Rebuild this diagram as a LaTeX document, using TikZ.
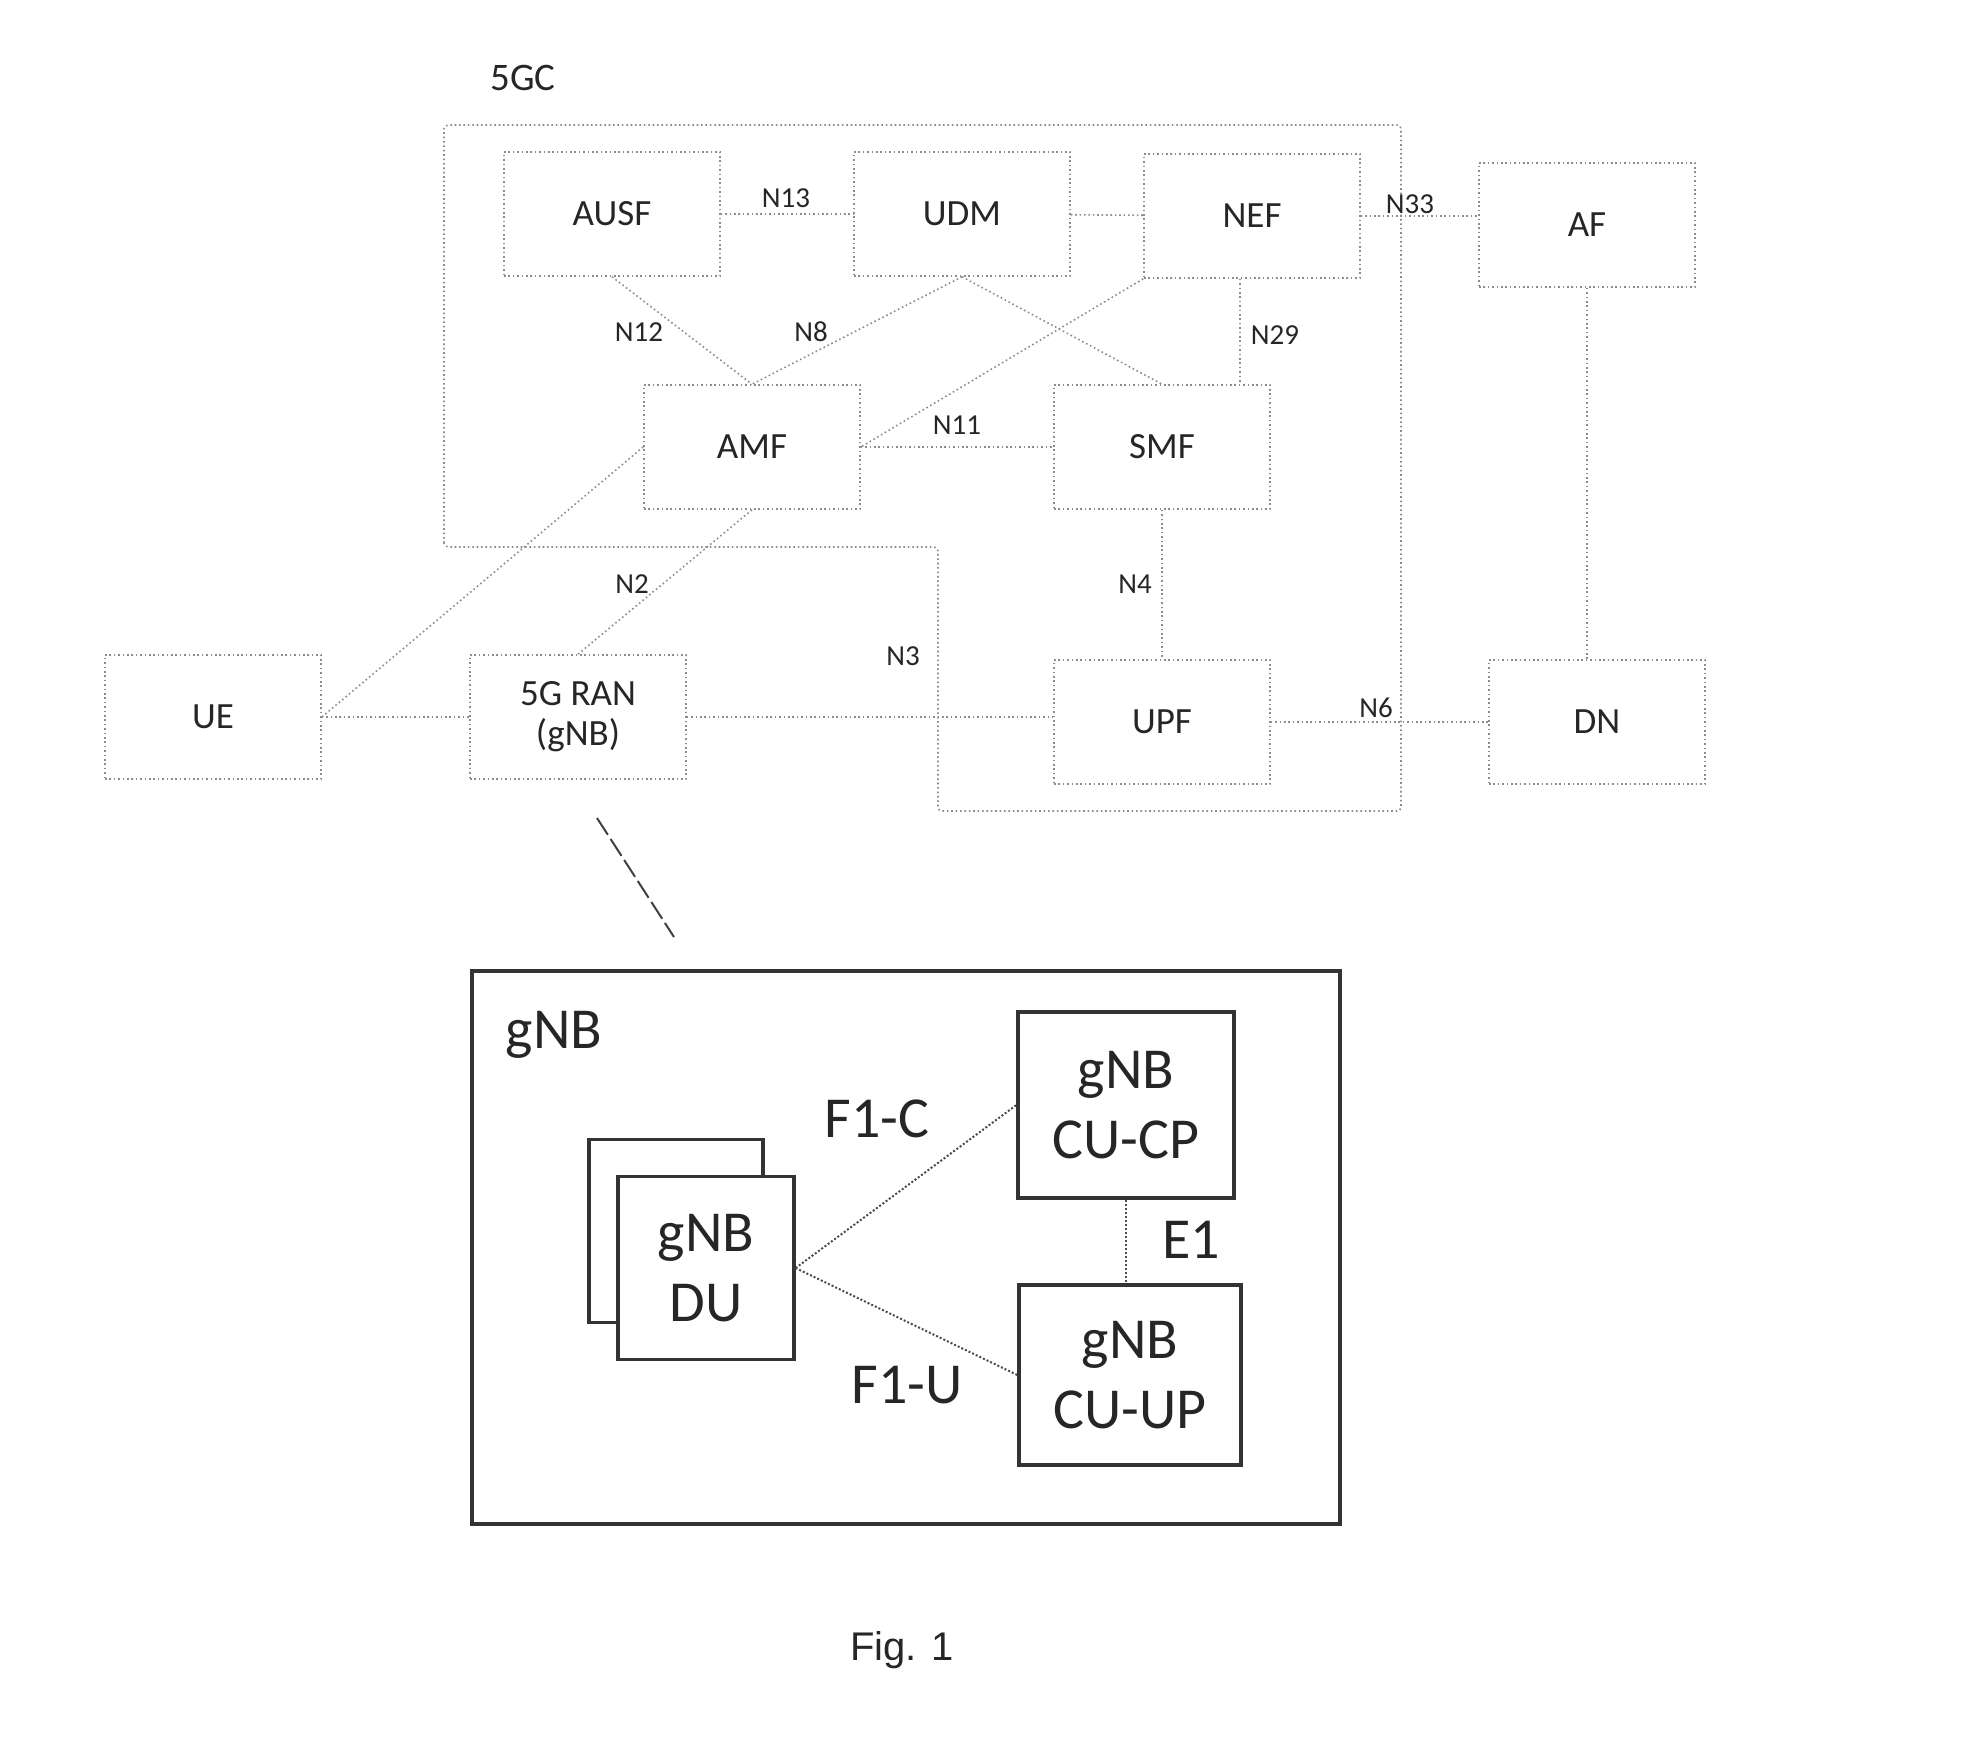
\documentclass[tikz,border=0pt]{standalone}
\usepackage{fontspec}
\setmainfont{Carlito}
\newfontfamily\figfont{Liberation Sans}
\usepackage{tikz}

\begin{document}
\begin{tikzpicture}[x=0.5pt,y=-0.5pt]
    \tikzstyle{nf}=[draw=black!45,dash pattern=on 0.8pt off 1.4pt,line width=0.8pt,text=black!85,minimum width=108pt,minimum height=62pt,inner sep=0pt,font=\fontsize{18.5}{20}\selectfont,align=center]
    \tikzstyle{ref}=[text=black!85,inner sep=1pt,font=\fontsize{14.5}{16}\selectfont]
    \tikzstyle{link}=[draw=black!45,dash pattern=on 0.8pt off 1.4pt,line width=0.8pt]
    \tikzstyle{unit}=[draw=black!80,line width=1.6pt,fill=white,text=black!85,inner sep=0pt,font=\fontsize{29}{35}\selectfont,align=center]
    \tikzstyle{flink}=[draw=black!70,densely dotted,line width=1pt]
    \tikzstyle{big}=[text=black!85,inner sep=0pt,font=\fontsize{29}{35}\selectfont]

    \useasboundingbox (0,0) rectangle (1962,1753);

    % core network
    \node[ref,font=\fontsize{19.5}{22}\selectfont] (core) at (523,78) {5GC};
    \draw[link,rounded corners=2pt] (444,547) -- (444,125) -- (1401,125) -- (1401,811) -- (938,811) -- (938,547) -- cycle;

    \node[nf] (ausf) at (612,214) {AUSF};
    \node[nf] (udm) at (962,214) {UDM};
    \node[nf] (nef) at (1252,216) {NEF};
    \node[nf] (af) at (1587,225) {AF};
    \node[nf] (amf) at (752,447) {AMF};
    \node[nf] (smf) at (1162,447) {SMF};
    \node[nf] (ue) at (213,717) {UE};
    \node[nf] (ran) at (578,717) {5G RAN\\(gNB)};
    \node[nf] (upf) at (1162,722) {UPF};
    \node[nf] (dn) at (1597,722) {DN};

    \path[link] (ausf) -- (udm);
    \path[link] (udm) -- (nef);
    \path[link] (nef.east) -- (af.west |- nef.east);
    \path[link] (ausf.south) -- (amf.north);
    \path[link] (udm.south) -- (amf.north);
    \path[link] (udm.south) -- (smf.north);
    \path[link] (nef.south west) -- (amf.east);
    \path[link] ([xshift=-6pt]nef.south) -- ([xshift=-6pt]nef.south |- smf.north);
    \path[link] (amf) -- (smf);
    \path[link] (amf.west) -- (ue.east);
    \path[link] (amf.south) -- (ran.north);
    \path[link] (ue) -- (ran);
    \path[link] (ran.east) -- (upf.west |- ran.east);
    \path[link] (smf) -- (upf);
    \path[link] (upf) -- (dn);
    \path[link] (af.south) -- (af.south |- dn.north);

    \node[ref] (n13) at (786,198) {N13};
    \node[ref] (n12) at (639,332) {N12};
    \node[ref] (n8) at (811,332) {N8};
    \node[ref] (n29) at (1275,335) {N29};
    \node[ref] (n11) at (957,425) {N11};
    \node[ref] (n33) at (1410,204) {N33};
    \node[ref] (n2) at (632,584) {N2};
    \node[ref] (n3) at (903,656) {N3};
    \node[ref] (n4) at (1135,584) {N4};
    \node[ref] (n6) at (1376,708) {N6};

    % zoom mark
    \coordinate (z1) at (597,818);
    \coordinate (z2) at (674,937);
    \draw[black!75,dash pattern=on 10pt off 2.5pt,line width=1pt] (z1) -- (z2);

    % gNB split
    \node[draw=black!80,line width=1.6pt,minimum width=434pt,minimum height=276.5pt,inner sep=0pt] (gnb) at (906,1247.5) {};
    \node[big] (gnbname) at (554,1035) {gNB};
    \node[unit,minimum width=87pt,minimum height=91.5pt] (duback) at (676,1231) {};
    \node[unit,minimum width=88pt,minimum height=91.5pt] (du) at (706,1268) {gNB\\DU};
    \node[unit,minimum width=108pt,minimum height=93pt] (cucp) at (1126,1105) {gNB\\CU-CP};
    \node[unit,minimum width=111pt,minimum height=90pt] (cuup) at (1130,1375) {gNB\\CU-UP};

    \path[flink] (du.east) -- (cucp.west);
    \path[flink] (du.east) -- (cuup.west);
    \path[flink] (cucp.south) -- (cucp.south |- cuup.north);

    \node[big] (f1c) at (877,1119) {F1-C};
    \node[big] (f1u) at (907,1385) {F1-U};
    \node[big] (e1) at (1191,1240) {E1};

    \node[text=black!85,font=\figfont\fontsize{20}{24}\selectfont] (fig) at (902,1650) {Fig. 1};
\end{tikzpicture}
\end{document}
